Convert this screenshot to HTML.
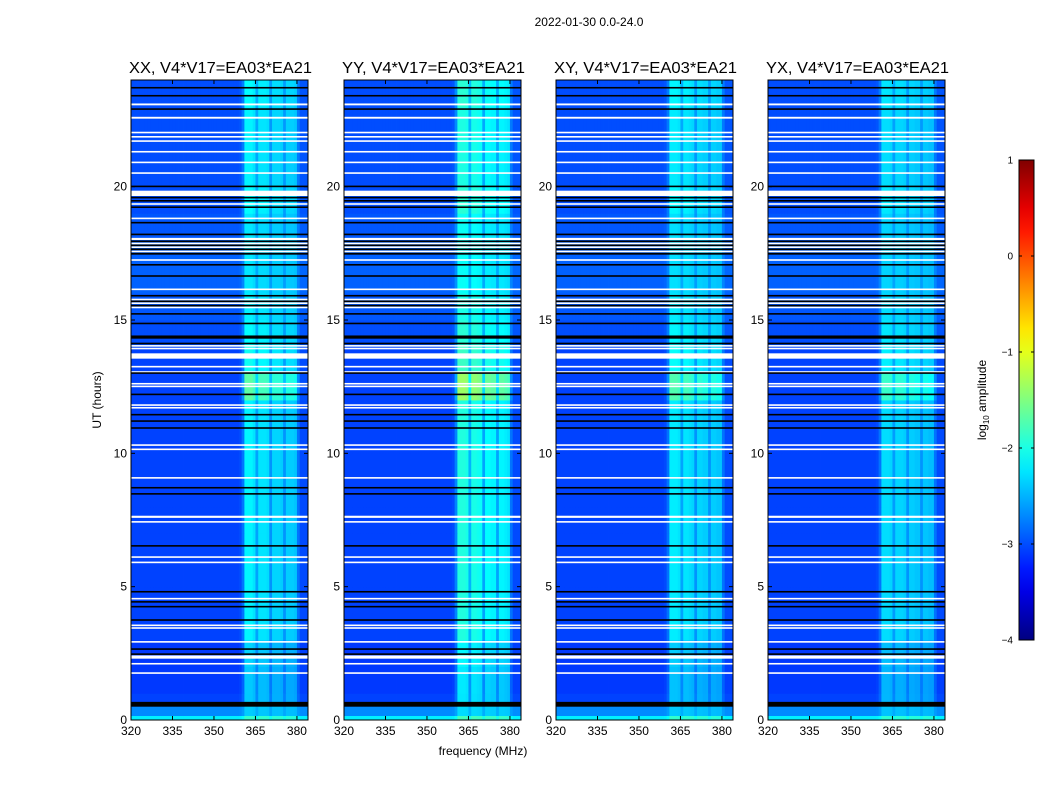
<!DOCTYPE html>
<html><head><meta charset="utf-8"><style>
body{margin:0;background:#fff;}
svg{display:block;font-family:"Liberation Sans",sans-serif;}
</style></head><body>
<svg id="fig" width="1050" height="800" viewBox="0 0 1050 800">
<rect width="1050" height="800" fill="#fff"/>
<text x="589" y="26" font-size="12" text-anchor="middle">2022-01-30 0.0-24.0</text>
<text x="483" y="755" font-size="12" text-anchor="middle">frequency (MHz)</text>
<text x="101" y="400" font-size="12" text-anchor="middle" transform="rotate(-90 101 400)">UT (hours)</text>
<g id="panels"></g>
<g id="cbar"></g>
</svg>
<script>
// ---- data ----
const panelTitles = ["XX, V4*V17=EA03*EA21","YY, V4*V17=EA03*EA21","XY, V4*V17=EA03*EA21","YX, V4*V17=EA03*EA21"];
const freqTicks = [320,335,350,365,380];
const timeTicks = [0,5,10,15,20];
const cbarTicks = [1,0,-1,-2,-3,-4];
// per-hour baseline log amplitude (hours 0..23)
const hourBaseline = [-3.05,-3.1,-3.1,-3.05,-3.05,-3.05,-3.05,-3.05,-3.05,-3.05,-3.05,-3.05,-3.05,-3.05,-3.0,-2.95,-2.9,-2.9,-2.95,-3.0,-3.0,-3.0,-3.0,-3.0];
// per-hour scale of RFI band
const hourBandGain = [0.6,0.65,0.7,0.8,0.8,0.8,0.8,0.8,0.8,0.8,0.8,0.8,1.25,0.9,0.8,0.7,0.6,0.6,0.65,0.8,0.75,0.75,0.75,0.8];
// per-channel (1 MHz, 320..383) boost, per polarisation
const boostXX = [0,0,0,0,0,0,0,0,0,0, 0,0,0,0,0,0,0,0,0,0, 0,0,0,0,0,0,0,0,0,0, 0,0,0,0,0,0,0,0,0,0.05,
 0.3,1.1,1.1,1.1,1.0,0.6,1.0,1.0,1.0,0.95,0.5,0.9,0.9,0.9,0.85,0.5,0.85,0.85,0.85,0.8,0.3,0.05,0.05,0.05];
const boostYY = [0,0,0,0,0,0,0,0,0,0, 0,0,0,0,0,0,0,0,0,0, 0,0,0,0,0,0,0,0,0,0, 0,0,0,0,0,0,0,0,0,0.05,
 0.4,1.35,1.35,1.35,1.3,0.7,1.3,1.3,1.25,1.2,0.6,1.15,1.15,1.1,1.1,0.6,1.1,1.1,1.05,1.0,0.3,0.05,0.05,0.05];
const boostXY = [0,0,0,0,0,0,0,0,0,0, 0,0,0,0,0,0,0,0,0,0, 0,0,0,0,0,0,0,0,0,0, 0,0,0,0,0,0,0,0,0,0.05,
 0.3,1.05,1.05,1.05,1.0,0.6,1.0,1.0,0.95,0.9,0.5,0.9,0.9,0.85,0.85,0.5,0.85,0.85,0.8,0.8,0.3,0.05,0.05,0.05];
const boostYX = [0,0,0,0,0,0,0,0,0,0, 0,0,0,0,0,0,0,0,0,0, 0,0,0,0,0,0,0,0,0,0, 0,0,0,0,0,0,0,0,0,0.05,
 0.3,0.95,0.95,0.95,0.9,0.55,0.9,0.9,0.9,0.85,0.5,0.85,0.85,0.8,0.8,0.5,0.8,0.8,0.75,0.75,0.3,0.05,0.05,0.05];
const whiteFlags = [[23.05,23.12],[22.55,22.62],[22.0,22.06],[21.85,21.9],[21.68,21.74],[21.28,21.34],[20.88,20.94],[20.48,20.54],
 [19.65,19.85],[19.32,19.38],[18.78,18.84],[18.0,18.08],[17.85,17.9],[17.7,17.76],[17.55,17.6],[17.22,17.28],[16.12,16.18],
 [15.75,15.8],[15.6,15.66],[15.45,15.5],[14.0,14.06],[13.9,13.96],[13.55,13.75],[13.22,13.28],[13.02,13.08],[12.58,12.64],[12.48,12.54],
 [11.78,11.84],[11.68,11.74],[10.28,10.34],[10.12,10.18],[9.05,9.11],[7.58,7.66],[7.4,7.46],[6.08,6.14],[5.88,5.94],[4.52,4.58],
 [3.52,3.58],[3.43,3.48],[2.9,2.96],[2.3,2.42],[2.08,2.14],[1.73,1.79]];
const blackFlags = [[23.68,23.74],[23.38,23.44],[22.88,22.94],[19.98,20.04],[19.56,19.62],[19.45,19.5],[19.2,19.26],[18.62,18.68],[18.18,18.24],
 [17.92,17.98],[17.78,17.83],[17.62,17.68],[17.45,17.52],[17.05,17.1],[16.62,16.68],[15.88,15.94],[15.68,15.73],[15.52,15.57],[15.2,15.26],
 [14.85,14.9],[14.3,14.42],[14.1,14.15],[13.0,13.04],[12.18,12.24],[11.42,11.48],[11.18,11.24],[10.92,10.98],[8.68,8.74],[8.45,8.51],
 [6.5,6.56],[4.78,4.84],[4.4,4.46],[4.22,4.28],[3.72,3.78],[2.63,2.69],[2.45,2.5],[0.5,0.68]];
const bottomRows = [[0,0.15,-2.2],[0.15,0.5,-2.7]]; // [start,end,log amp]
</script>
<script>
const NS="http://www.w3.org/2000/svg";
function mk(tag,attrs,parent){const e=document.createElementNS(NS,tag);for(const k in attrs)e.setAttribute(k,attrs[k]);parent.appendChild(e);return e;}
function jet(v){const t=Math.max(0,Math.min(1,(v+4)/5));const c=x=>Math.round(255*Math.max(0,Math.min(1,1.5-Math.abs(x))));
 return `rgb(${c(4*t-3)},${c(4*t-2)},${c(4*t-1)})`;}
const boosts=[boostXX,boostYY,boostXY,boostYX];
const px0=[131,344,556,768], W=177, TOP=80, H=640;
const xs=(p,f)=>px0[p]+(f-320)*W/64;
const ys=h=>TOP+H-h*H/24;
const root=document.getElementById('panels');
for(let p=0;p<4;p++){
 const g=mk('g',{},root);
 
 
 const boost=boosts[p];
 for(let hr=0;hr<24;hr++){
  for(let c=0;c<64;c++){
   const v=hourBaseline[hr]+hourBandGain[hr]*boost[c];
   const r=mk('rect',{x:xs(p,320+c).toFixed(2),y:ys(hr+1).toFixed(2),width:(W/64+0.4).toFixed(2),height:(H/24+0.4).toFixed(2),fill:jet(v)},g);
   
   
  }
 }
 for(const [a,b,v] of bottomRows){
  for(let c=0;c<64;c++){
   const r=mk('rect',{x:xs(p,320+c).toFixed(2),y:ys(b),width:(W/64+0.4).toFixed(2),height:ys(a)-ys(b),fill:jet(v+0.3*boost[c])},g);
   
   
  }
 }
 for(const [a,b] of whiteFlags){const hh=Math.max(1.6,ys(a)-ys(b));
  const r=mk('rect',{x:px0[p],y:ys(b),width:W,height:hh,fill:'#fff'},g);
  
  }
 for(const [a,b] of blackFlags){const hh=Math.max(1.6,ys(a)-ys(b));
  const r=mk('rect',{x:px0[p],y:ys(b),width:W,height:hh,fill:'#000'},g);
  
  }
 mk('rect',{x:px0[p],y:TOP,width:W,height:H,fill:'none',stroke:'#000','stroke-width':1},g);
 const t=mk('text',{x:px0[p]+W/2+1,y:TOP-7,'font-size':16,'text-anchor':'middle',textLength:183,lengthAdjust:'spacingAndGlyphs'},g);
 t.textContent=panelTitles[p];
 
 
 for(const f of freqTicks){const x=xs(p,f);
  mk('line',{x1:x,y1:TOP+H,x2:x,y2:TOP+H-4,stroke:'#000'},g);
  mk('line',{x1:x,y1:TOP,x2:x,y2:TOP+4,stroke:'#000'},g);
  const l=mk('text',{x:x,y:TOP+H+15,'font-size':12,'text-anchor':'middle'},g);l.textContent=f;
  
  }
 for(const h of timeTicks){const y=ys(h);
  mk('line',{x1:px0[p],y1:y,x2:px0[p]+4,y2:y,stroke:'#000'},g);
  mk('line',{x1:px0[p]+W,y1:y,x2:px0[p]+W-4,y2:y,stroke:'#000'},g);
  const l=mk('text',{x:px0[p]-4,y:y+4,'font-size':12,'text-anchor':'end'},g);l.textContent=h;
  
  }
}
// colorbar
const cb=document.getElementById('cbar');
const defs=mk('defs',{},cb);
const lg=mk('linearGradient',{id:'jetg',x1:0,y1:1,x2:0,y2:0},defs);
for(let i=0;i<=20;i++){mk('stop',{offset:i/20,'stop-color':jet(-4+5*i/20)},lg);}
const cy=v=>640-(v+4)*96;
mk('rect',{x:1019,y:160,width:15,height:480,fill:'url(#jetg)',stroke:'#000','stroke-width':1},cb);
for(const v of cbarTicks){const y=cy(v);
 mk('line',{x1:1019,y1:y,x2:1022,y2:y,stroke:'#000'},cb);
 mk('line',{x1:1034,y1:y,x2:1031,y2:y,stroke:'#000'},cb);
 const l=mk('text',{x:1013,y:y+3.5,'font-size':10,'text-anchor':'end'},cb);l.textContent=(v<0?'\u2212'+(-v):String(v));
 
 }
const cl=mk('text',{x:986,y:400,'font-size':12,'text-anchor':'middle',transform:'rotate(-90 986 400)'},cb);
cl.innerHTML='log<tspan font-size="8" dy="3">10</tspan><tspan dy="-3"> amplitude</tspan>';


</script>
</body></html>
